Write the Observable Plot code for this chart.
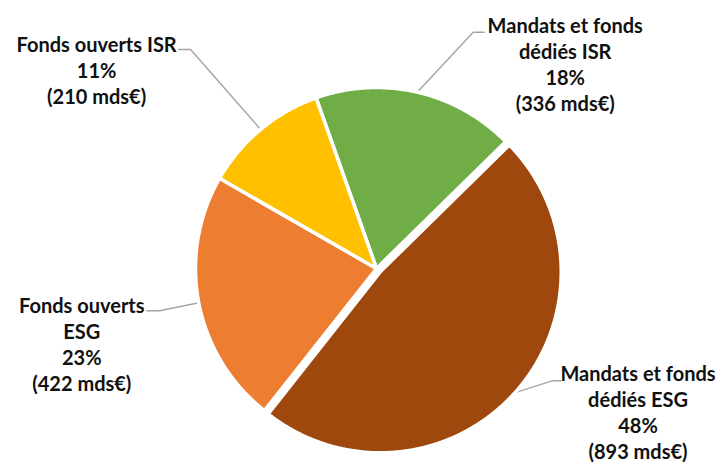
<!DOCTYPE html>
<html><head><meta charset="utf-8">
<script src="https://cdn.jsdelivr.net/npm/d3@7"></script>
<script src="https://cdn.jsdelivr.net/npm/@observablehq/plot@0.6"></script>
<style>body{margin:0;background:#fff;} #chart{width:717px;height:465px;}</style>
</head><body><div id="chart"></div>
<script>
// ---- data ----
const categories = ["Mandats et fonds dédiés ISR", "Mandats et fonds dédiés ESG", "Fonds ouverts ESG", "Fonds ouverts ISR"];
const labelNames = ["Mandats et fonds\ndédiés ISR", "Mandats et fonds\ndédiés ESG", "Fonds ouverts\nESG", "Fonds ouverts ISR"];
const amounts = [336, 893, 422, 210];   // mds€
const shares = [18, 48, 23, 11];        // %
const colors = ["#70AD47", "#9E480E", "#ED7D31", "#FFC000"];

// ---- layout ----
const W = 717, H = 465, cx = 376, cy = 268, R = 181;
const startDeg = -19.5;
const explode = [0, 5, 0, 0];
// label layout relative to the rim point of each slice: elbow, tail end, text block centre
const labelLayout = [
  {ex: 56, ey: -60, tx: 67, lx: 148, ly: -28},
  {ex: 38, ey: -12, tx: 46, lx: 123, ly: 19},
  {ex: -39, ey: 8, tx: -52, lx: -117, ly: 41},
  {ex: -70, ey: -80, tx: -82, lx: -164, ly: -60}
];

const start = startDeg * Math.PI / 180;
const arcs = d3.pie().sort(null).startAngle(start).endAngle(start + 2 * Math.PI)(amounts);

const polys = [];
const leaders = [];
const labels = [];
arcs.forEach((a, i) => {
  const mid = (a.startAngle + a.endAngle) / 2;
  const ox = explode[i] * Math.sin(mid), oy = -explode[i] * Math.cos(mid);
  const name = categories[i];
  polys.push({name, x: ox, y: oy});
  const n = Math.max(2, Math.ceil((a.endAngle - a.startAngle) / 0.01));
  for (let k = 0; k <= n; k++) {
    const t = a.startAngle + (a.endAngle - a.startAngle) * k / n;
    polys.push({name, x: ox + R * Math.sin(t), y: oy - R * Math.cos(t)});
  }
  polys.push({name, x: ox, y: oy});
  const rx = ox + R * Math.sin(mid), ry = oy - R * Math.cos(mid);
  const L = labelLayout[i];
  leaders.push({name, x: rx, y: ry});
  leaders.push({name, x: rx + L.ex, y: ry + L.ey});
  leaders.push({name, x: rx + L.tx, y: ry + L.ey});
  labels.push({name, x: rx + L.lx, y: ry + L.ly,
    text: `${labelNames[i]}\n${shares[i]}%\n(${amounts[i]} mds€)`});
});

const chart = Plot.plot({
  width: W, height: H,
  margin: 0,
  x: {domain: [-cx, W - cx], range: [0, W], axis: null},
  y: {domain: [-cy, H - cy], range: [0, H], axis: null},
  color: {domain: categories, range: colors},
  style: {fontFamily: "Lato, 'Open Sans', sans-serif", background: "#fff"},
  marks: [
    Plot.line(leaders, {x: "x", y: "y", z: "name", stroke: "#A6A6A6", strokeWidth: 1.5, curve: "linear"}),
    Plot.line(polys, {x: "x", y: "y", z: "name", fill: "name", stroke: "white", strokeWidth: 3.5,
      strokeLinejoin: "round", curve: "linear"}),
    Plot.text(labels, {x: "x", y: "y", text: "text", textAnchor: "middle", lineAnchor: "middle",
      fontSize: 20, fontWeight: "bold", lineHeight: 1.3, fill: "#111"})
  ]
});
document.getElementById("chart").appendChild(chart);
</script>
</body></html>
